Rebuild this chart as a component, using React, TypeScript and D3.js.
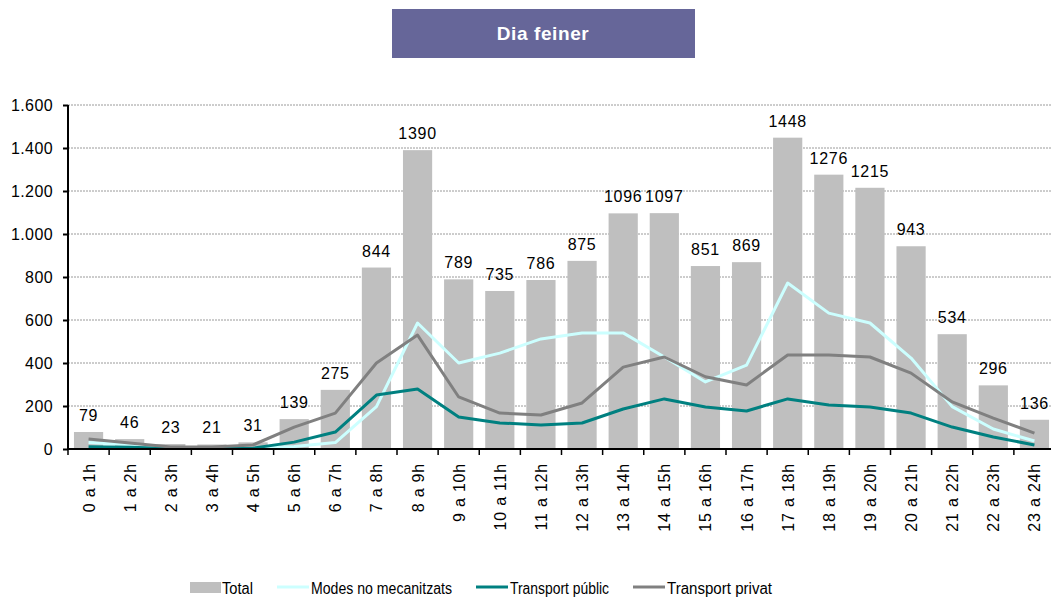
import React, { useRef, useEffect } from 'react';
import * as d3 from 'd3';

const hours = [
  '0 a 1h', '1 a 2h', '2 a 3h', '3 a 4h', '4 a 5h', '5 a 6h', '6 a 7h', '7 a 8h',
  '8 a 9h', '9 a 10h', '10 a 11h', '11 a 12h', '12 a 13h', '13 a 14h', '14 a 15h',
  '15 a 16h', '16 a 17h', '17 a 18h', '18 a 19h', '19 a 20h', '20 a 21h',
  '21 a 22h', '22 a 23h', '23 a 24h',
];
const total = [79, 46, 23, 21, 31, 139, 275, 844, 1390, 789, 735, 786, 875, 1096, 1097, 851, 869, 1448, 1276, 1215, 943, 534, 296, 136];
const noMecanitzats = [30, 20, 5, 3, 3, 12, 30, 197, 586, 400, 446, 512, 540, 540, 428, 312, 390, 772, 632, 586, 423, 197, 93, 37];
const transportPublic = [11, 8, 2, 2, 4, 32, 79, 251, 279, 149, 121, 112, 121, 186, 233, 195, 177, 233, 205, 195, 167, 102, 56, 19];
const transportPrivat = [47, 28, 9, 9, 19, 102, 167, 400, 530, 242, 167, 158, 214, 381, 428, 336, 298, 437, 437, 428, 353, 219, 144, 74];
const yTicks = [0, 200, 400, 600, 800, 1000, 1200, 1400, 1600];

const W = 1051;
const H = 599;
const font = 'Arial, "Liberation Sans", sans-serif';

const lines = [
  { name: 'Modes no mecanitzats', values: noMecanitzats, color: '#ccffff' },
  { name: 'Transport públic', values: transportPublic, color: '#008080' },
  { name: 'Transport privat', values: transportPrivat, color: '#808080' },
];

const App: React.FC = () => {
  const ref = useRef<SVGSVGElement>(null);

  useEffect(() => {
    const svg = d3.select(ref.current);
    svg.selectAll('*').remove();

    const x = d3.scaleBand().domain(hours).range([68, 1055]).paddingInner(0.29).paddingOuter(0.145);
    const y = d3.scaleLinear().domain([0, 1600]).range([449, 105]);
    const fmt = (v: number) => d3.format(',')(v).replace(/,/g, '.');

    // title
    svg.append('rect').attr('x', 392).attr('y', 9).attr('width', 303).attr('height', 49).attr('fill', '#666699');
    svg.append('text').attr('x', 543).attr('y', 40).attr('text-anchor', 'middle')
      .attr('fill', '#fff').attr('font-family', font).attr('font-weight', 'bold').attr('font-size', 19)
      .attr('letter-spacing', 0.6)
      .text('Dia feiner');

    // grid
    svg.append('g').selectAll('line').data(yTicks.slice(1)).join('line')
      .attr('x1', 68).attr('x2', W).attr('y1', (d) => y(d)).attr('y2', (d) => y(d))
      .attr('stroke', '#9a9a9a').attr('stroke-dasharray', '2,1').attr('stroke-width', 1);

    // bars
    svg.append('g').selectAll('rect').data(total).join('rect')
      .attr('x', (d, i) => x(hours[i]) ?? 0)
      .attr('y', (d) => y(d))
      .attr('width', x.bandwidth())
      .attr('height', (d) => y(0) - y(d))
      .attr('fill', '#bfbfbf');

    // lines
    const line = d3.line<number>()
      .x((d, i) => (x(hours[i]) ?? 0) + x.bandwidth() / 2)
      .y((d) => y(d));
    lines.forEach((s) => {
      svg.append('path').datum(s.values).attr('d', line)
        .attr('fill', 'none').attr('stroke', s.color).attr('stroke-width', 3).attr('stroke-linejoin', 'round');
    });

    // bar labels
    svg.append('g').selectAll('text').data(total).join('text')
      .attr('x', (d, i) => (x(hours[i]) ?? 0) + x.bandwidth() / 2)
      .attr('y', (d) => y(d) - 11)
      .attr('text-anchor', 'middle').attr('font-family', font).attr('font-size', 16)
      .attr('letter-spacing', 0.7).attr('fill', '#000')
      .text((d) => String(d));

    // y axis
    const yAxis = svg.append('g').attr('transform', 'translate(68,0)')
      .call(d3.axisLeft(y).tickValues(yTicks).tickSize(5).tickPadding(10).tickFormat((d) => fmt(d as number)));
    yAxis.selectAll('text').attr('font-family', font).attr('font-size', 16).attr('letter-spacing', 0.4).attr('fill', '#000');
    yAxis.selectAll('line, path').attr('stroke', '#000').attr('stroke-width', 2);
    yAxis.select('.domain').attr('d', 'M0,105V449');

    // x axis
    const xAxisG = svg.append('g').attr('transform', 'translate(0,449)');
    xAxisG.append('line').attr('x1', 68).attr('x2', W).attr('stroke', '#000').attr('stroke-width', 2);
    const step = x.step();
    xAxisG.selectAll('line.tick').data(d3.range(hours.length + 1)).join('line')
      .attr('class', 'tick')
      .attr('x1', (d) => 68 + d * step).attr('x2', (d) => 68 + d * step)
      .attr('y1', 0).attr('y2', 6).attr('stroke', '#000').attr('stroke-width', 1.5);
    xAxisG.selectAll('text').data(hours).join('text')
      .attr('transform', (d) => `translate(${(x(d) ?? 0) + x.bandwidth() / 2 + 6},14) rotate(-90)`)
      .attr('text-anchor', 'end').attr('font-family', font).attr('font-size', 16)
      .attr('letter-spacing', 0.8).attr('fill', '#000')
      .text((d) => d);

    // legend
    const lg = svg.append('g').attr('font-family', font).attr('font-size', 16).attr('fill', '#000');
    lg.append('rect').attr('x', 190).attr('y', 582).attr('width', 31).attr('height', 11).attr('fill', '#bfbfbf');
    lg.append('text').attr('x', 222).attr('y', 594).attr('textLength', 31)
      .attr('lengthAdjust', 'spacingAndGlyphs').text('Total');
    const legendX = [277, 476, 633];
    const legendW = [141, 99, 105];
    lines.forEach((s, i) => {
      lg.append('line').attr('x1', legendX[i]).attr('x2', legendX[i] + 32).attr('y1', 587).attr('y2', 587)
        .attr('stroke', s.color).attr('stroke-width', 3);
      lg.append('text').attr('x', legendX[i] + 34).attr('y', 594)
        .attr('textLength', legendW[i]).attr('lengthAdjust', 'spacingAndGlyphs').text(s.name);
    });
  }, []);

  return (
    <svg ref={ref} width={W} height={H} style={{ position: 'absolute', left: 0, top: 0, background: '#fff' }} />
  );
};

export default App;
